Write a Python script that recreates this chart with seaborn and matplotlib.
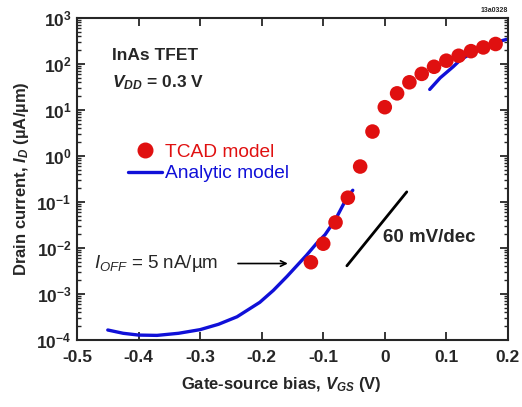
import numpy as np
import pandas as pd
import matplotlib.pyplot as plt
import seaborn as sns
from matplotlib.lines import Line2D
from matplotlib.ticker import LogLocator, NullFormatter, FixedLocator

# datos
tcad_vgs = [-0.12, -0.10, -0.08, -0.06, -0.04, -0.02, 0.00, 0.02, 0.04, 0.06, 0.08, 0.10, 0.12, 0.14, 0.16, 0.18]
tcad_id = [4.9e-3, 1.24e-2, 3.6e-2, 0.124, 0.59, 3.4, 11.5, 23, 40, 61, 87, 118, 151, 190, 229, 272]

ana1_vgs = [-0.45, -0.425, -0.40, -0.37, -0.335, -0.30, -0.27, -0.24, -0.203, -0.181, -0.159,
            -0.143, -0.127, -0.111, -0.097, -0.08, -0.068, -0.062, -0.052]
ana1_id = [1.65e-4, 1.4e-4, 1.28e-4, 1.26e-4, 1.4e-4, 1.68e-4, 2.2e-4, 3.2e-4, 6.6e-4, 1.2e-3, 2.4e-3,
           4.1e-3, 7.0e-3, 1.25e-2, 1.95e-2, 4.2e-2, 8.5e-2, 0.12, 0.18]

ana2_vgs = [0.073, 0.09, 0.111, 0.122, 0.14, 0.154, 0.175, 0.198]
ana2_id = [28, 50, 87, 120, 170, 218, 280, 344]

x_ticks = [-0.5, -0.4, -0.3, -0.2, -0.1, 0, 0.1, 0.2]
x_labels = ["-0.5", "-0.4", "-0.3", "-0.2", "-0.1", "0", "0.1", "0.2"]

df_tcad = pd.DataFrame({"vgs": tcad_vgs, "id": tcad_id})
df_a1 = pd.DataFrame({"vgs": ana1_vgs, "id": ana1_id})
df_a2 = pd.DataFrame({"vgs": ana2_vgs, "id": ana2_id})

sns.set_style("ticks")
plt.rcParams["font.family"] = ["Liberation Sans", "DejaVu Sans"]
plt.rcParams["mathtext.fontset"] = "custom"
plt.rcParams["mathtext.it"] = "Liberation Sans:italic"
plt.rcParams["mathtext.rm"] = "Liberation Sans"
plt.rcParams["mathtext.bfit"] = "Liberation Sans:italic:bold"

fig = plt.figure(figsize=(5.22, 4.07), dpi=100)
ax = fig.add_axes([0.1475, 0.1646, 0.8255, 0.7912])

azul = "#1010d8"
rojo = "#e01010"

sns.lineplot(data=df_a1, x="vgs", y="id", color=azul, lw=2.4, sort=False, ax=ax)
sns.lineplot(data=df_a2, x="vgs", y="id", color=azul, lw=2.4, sort=False, ax=ax)
sns.scatterplot(data=df_tcad, x="vgs", y="id", color=rojo, s=110, edgecolor="none", ax=ax, zorder=3)

ax.set_yscale("log")
ax.set_xlim(-0.5, 0.2)
ax.set_ylim(1e-4, 1e3)

ax.xaxis.set_major_locator(FixedLocator(x_ticks))
ax.set_xticklabels(x_labels, fontsize=12.5, fontweight="bold")
ax.yaxis.set_major_locator(LogLocator(base=10, numticks=12))
ax.yaxis.set_minor_locator(LogLocator(base=10, subs=np.arange(2, 10), numticks=12))
ax.yaxis.set_minor_formatter(NullFormatter())
for t in ax.get_yticklabels():
    t.set_fontsize(12.5)
    t.set_fontweight("bold")

ax.tick_params(which="major", direction="in", length=6, width=1.3, top=True, right=True, pad=4)
ax.tick_params(axis="x", which="major", pad=7)
ax.tick_params(which="minor", direction="in", length=3, width=1, top=True, right=True)
for s in ax.spines.values():
    s.set_linewidth(1.5)

ax.set_xlabel(r"Gate-source bias, $\mathbfit{V}_{\mathbfit{GS}}$ (V)", fontsize=12, fontweight="bold")
ax.xaxis.set_label_coords(0.475, -0.11)
ax.set_ylabel(r"Drain current, $\mathbfit{I}_{\mathbfit{D}}$ (µA/µm)", fontsize=12, fontweight="bold", labelpad=4)

# textos
ax.text(0.082, 0.885, "InAs TFET", transform=ax.transAxes, fontsize=12.5, fontweight="bold", va="center")
ax.text(0.082, 0.80, r"$\mathbfit{V}_{\mathbfit{DD}}$ = 0.3 V", transform=ax.transAxes, fontsize=12.5,
        fontweight="bold", va="center")

h1 = Line2D([], [], marker="o", ls="none", color=rojo, markersize=10.5)
h2 = Line2D([], [], color=azul, lw=2.4)
ax.legend([h1, h2], ["TCAD model", "Analytic model"], labelcolor=[rojo, azul], frameon=False,
          fontsize=13.8, loc="upper left", bbox_to_anchor=(0.118, 0.61), handlelength=1.8,
          handletextpad=0.15, borderaxespad=0, borderpad=0, labelspacing=0.2)

ax.text(-0.472, 4.6e-3, r"$I_{OFF}$ = 5 nA/µm", fontsize=13.5, va="center")
ax.annotate("", xy=(-0.153, 4.6e-3), xytext=(-0.243, 4.6e-3),
            arrowprops=dict(arrowstyle="->", color="black", lw=1.2))
ax.plot([-0.0616, 0.0357], [4.1e-3, 0.166], color="black", lw=2)
ax.text(-0.003, 1.65e-2, "60 mV/dec", fontsize=13.5, fontweight="bold", va="center")
fig.text(0.973, 0.975, "13a0328", fontsize=5, fontweight="bold", ha="right", va="center")

fig.savefig("out.png", dpi=100)
